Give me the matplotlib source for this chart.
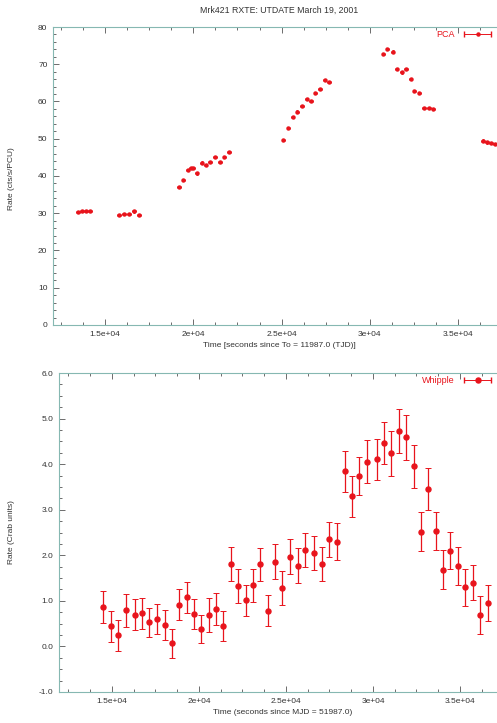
import numpy as np
import matplotlib
matplotlib.use("Agg")
import matplotlib.pyplot as plt
from matplotlib.ticker import MultipleLocator, FixedLocator
from matplotlib.legend_handler import HandlerErrorbar
from matplotlib.container import ErrorbarContainer

# ---------------- data ----------------
title = "Mrk421 RXTE: UTDATE March 19, 2001"

pca_time = [13471, 13698, 13924, 14150,
            15793, 16076, 16359, 16642, 16925,
            19190, 19436, 19680, 19870, 20000, 20190, 20470, 20700, 20945, 21230, 21510, 21755, 22020,
            25097, 25380, 25628, 25889, 26155, 26421, 26665, 26908, 27174, 27440, 27684,
            30760, 30986, 31290, 31518, 31800, 32044, 32310, 32514, 32797, 33063, 33346, 33590,
            36404, 36630, 36857, 37084]
pca_rate = [30.3, 30.6, 30.7, 30.7,
            29.5, 29.8, 29.9, 30.5, 29.6,
            37.1, 38.9, 41.6, 42.1, 42.1, 40.7, 43.6, 43.0, 43.8, 45.0, 43.7, 45.2, 46.5,
            49.7, 52.8, 55.8, 57.3, 58.8, 60.7, 60.1, 62.2, 63.4, 65.8, 65.2,
            72.7, 74.0, 73.4, 68.7, 67.8, 68.7, 66.0, 62.8, 62.2, 58.3, 58.2, 57.9,
            49.5, 49.0, 48.8, 48.5]
pca_terr = 90
pca_rerr = 0.3

whip_time = [14500, 14943, 15362, 15787, 16322, 16741, 17144, 17603, 18029, 18448,
             18851, 19293, 19713, 20132, 20557, 20977, 21397, 21839, 22259, 22684,
             23103, 23523, 23966, 24385, 24787, 25230, 25672, 26092, 26626, 27052,
             27489, 27914, 28391, 28810, 29213, 29672, 30213, 30632, 31052, 31477,
             31897, 32356, 32759, 33178, 33603, 34023, 34443, 34868, 35287, 35730,
             36149, 36592]
whip_rate = [0.86, 0.44, 0.25, 0.79, 0.70, 0.73, 0.53, 0.61, 0.47, 0.07,
             0.91, 1.08, 0.71, 0.38, 0.69, 0.82, 0.45, 1.81, 1.33, 1.01,
             1.34, 1.80, 0.78, 1.86, 1.28, 1.97, 1.77, 2.12, 2.05, 1.81,
             2.35, 2.30, 3.84, 3.29, 3.74, 4.05, 4.11, 4.46, 4.24, 4.73,
             4.59, 3.95, 2.52, 3.45, 2.53, 1.68, 2.10, 1.77, 1.30, 1.40,
             0.69, 0.95]
whip_err = [0.35, 0.34, 0.34, 0.37, 0.35, 0.34, 0.32, 0.33, 0.33, 0.32,
            0.34, 0.34, 0.33, 0.31, 0.37, 0.36, 0.32, 0.38, 0.37, 0.34,
            0.36, 0.37, 0.34, 0.38, 0.38, 0.38, 0.38, 0.37, 0.38, 0.38,
            0.39, 0.40, 0.45, 0.44, 0.42, 0.47, 0.45, 0.46, 0.49, 0.49,
            0.49, 0.48, 0.43, 0.46, 0.42, 0.43, 0.41, 0.42, 0.41, 0.39,
            0.41, 0.39]

x_ticks = [15000, 20000, 25000, 30000, 35000]
x_ticklabels = ["1.5e+04", "2e+04", "2.5e+04", "3e+04", "3.5e+04"]
top_yticks = [0, 10, 20, 30, 40, 50, 60, 70, 80]
bot_yticks = [-1.0, 0.0, 1.0, 2.0, 3.0, 4.0, 5.0, 6.0]

# ---------------- style ----------------
plt.rcParams['font.family'] = ['Liberation Sans', 'DejaVu Sans']
RED = '#e8141c'
SPINE = '#86b8b2'
TICKC = '#555555'
TXT = '#333333'

W, H = 497, 723
fig = plt.figure(figsize=(W / 100, H / 100), dpi=100)

def px_axes(left, right, top, bottom):
    return fig.add_axes([left / W, 1 - bottom / H, (right - left) / W, (bottom - top) / H])

ax1 = px_axes(53, 505, 27, 325)
ax2 = px_axes(59, 506, 373, 692)

def style(ax, yminor):
    for s in ax.spines.values():
        s.set_color(SPINE)
        s.set_linewidth(0.8)
    ax.xaxis.set_major_locator(FixedLocator(x_ticks))
    ax.set_xticklabels(x_ticklabels)
    ax.xaxis.set_minor_locator(MultipleLocator(1250))
    ax.yaxis.set_minor_locator(MultipleLocator(yminor))
    ax.tick_params(which='both', direction='in', top=True, right=True,
                   color=TICKC, labelcolor=TXT, labelsize=6, width=0.6, pad=4)
    ax.tick_params(which='major', length=4)
    ax.tick_params(which='minor', length=2)

hmap = {ErrorbarContainer: HandlerErrorbar(xerr_size=1.5)}

def add_legend(ax, xanchor):
    ax.legend(loc='upper right', bbox_to_anchor=(xanchor, 1.0), markerfirst=False,
              frameon=False, fontsize=6.5, labelcolor=RED, handlelength=3.4,
              borderaxespad=0.0, handletextpad=0.9, handler_map=hmap, borderpad=0.3)

# ---------- top panel ----------
ax1.errorbar(pca_time, pca_rate, xerr=pca_terr, yerr=pca_rerr, fmt='o', color=RED,
             ms=2.2, mec=RED, elinewidth=0.7, capsize=0.8, capthick=0.6)
ax1.errorbar([np.nan], [np.nan], xerr=[1], fmt='o', color=RED, ms=2.2,
             elinewidth=0.7, capsize=2, label='PCA')
ax1.set_xlim(12055, 37650)
ax1.set_ylim(0, 80)
ax1.set_yticks(top_yticks)
ax1.set_yticklabels([str(v) for v in top_yticks])
style(ax1, 2)
ax1.set_title(title, fontsize=6.3, color=TXT, pad=10)
ax1.set_xlabel("Time [seconds since To = 11987.0 (TJD)]", fontsize=6, color=TXT, labelpad=3)
ax1.set_ylabel("Rate (cts/s/PCU)", fontsize=6, color=TXT)
ax1.yaxis.set_label_coords(-0.084, 0.49)
add_legend(ax1, (496 - 53) / 452)

# ---------- bottom panel ----------
ax2.errorbar(whip_time, whip_rate, yerr=whip_err, fmt='o', color=RED, ms=3.6,
             mec=RED, elinewidth=0.9, capsize=2, capthick=0.7)
ax2.errorbar([np.nan], [np.nan], xerr=[1], fmt='o', color=RED, ms=3.6,
             elinewidth=0.7, capsize=2, label='Whipple')
ax2.set_xlim(11954, 37650)
ax2.set_ylim(-1.0, 6.0)
ax2.set_yticks(bot_yticks)
ax2.set_yticklabels([f"{v:.1f}" for v in bot_yticks])
style(ax2, 0.25)
ax2.set_xlabel("Time (seconds since MJD = 51987.0)", fontsize=6, color=TXT, labelpad=3)
ax2.set_ylabel("Rate (Crab units)", fontsize=6, color=TXT)
ax2.yaxis.set_label_coords(-0.099, 0.5)
add_legend(ax2, (496 - 59) / 447)

fig.savefig("out.png", dpi=100)
